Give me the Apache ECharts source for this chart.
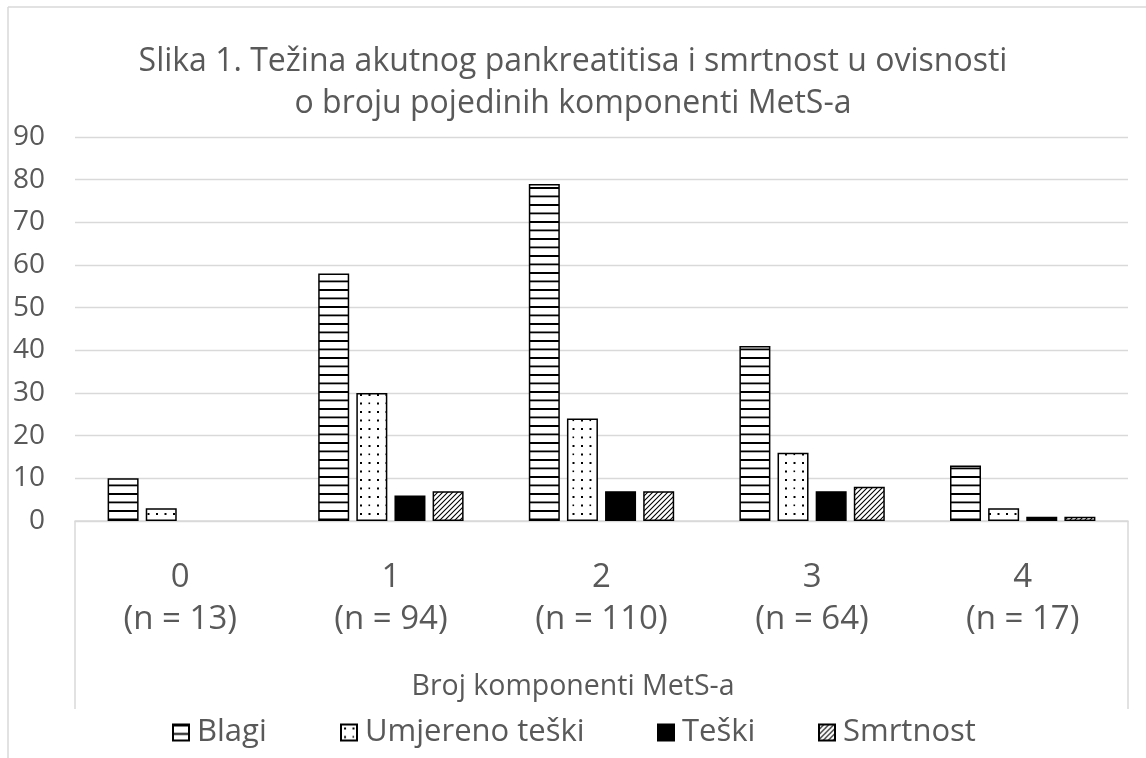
<!DOCTYPE html>
<html>
<head>
<meta charset="utf-8">
<script src="https://cdn.jsdelivr.net/npm/echarts@6/dist/echarts.min.js"></script>
<style>
html,body{margin:0;padding:0;background:#fff;}
#chart{width:1146px;height:758px;}
</style>
</head>
<body>
<div id="chart"></div>
<script>
// ---- data ----
const categories = ['0\n(n = 13)', '1\n(n = 94)', '2\n(n = 110)', '3\n(n = 64)', '4\n(n = 17)'];
const seriesNames = ['Blagi', 'Umjereno teški', 'Teški', 'Smrtnost'];
const blagi = [10, 58, 79, 41, 13];
const umjereno = [3, 30, 24, 16, 3];
const teski = [0, 6, 7, 7, 1];
const smrtnost = [0, 7, 7, 8, 1];
const yTicks = { min: 0, max: 90, interval: 10 };
const titleText = 'Slika 1. Težina akutnog pankreatitisa i smrtnost u ovisnosti\no broju pojedinih komponenti MetS-a';
const xAxisName = 'Broj komponenti MetS-a';

// ---- patterns ----
function mk(w, h, draw) {
  const c = document.createElement('canvas');
  c.width = w; c.height = h;
  const ctx = c.getContext('2d');
  ctx.fillStyle = '#fff'; ctx.fillRect(0, 0, w, h);
  ctx.fillStyle = '#000'; ctx.strokeStyle = '#000';
  draw(ctx);
  return c;
}
const hLines = mk(17, 17, ctx => { ctx.fillRect(0, 0, 17, 2); ctx.fillRect(0, 8.5, 17, 1.8); });
const dots = mk(17, 17, ctx => {
  ctx.fillRect(3, 3, 2, 2); ctx.fillRect(11.5, 3, 2, 2);
  ctx.fillRect(3, 11.5, 2, 2); ctx.fillRect(11.5, 11.5, 1.6, 1.6);
});
const hatch = mk(5, 5, ctx => {
  ctx.lineWidth = 1.1;
  ctx.beginPath();
  ctx.moveTo(-1, 6); ctx.lineTo(6, -1);
  ctx.moveTo(-1, 1); ctx.lineTo(1, -1);
  ctx.moveTo(4, 6); ctx.lineTo(6, 4);
  ctx.stroke();
});
const fills = [
  { image: hLines, repeat: 'repeat' },
  { image: dots, repeat: 'repeat' },
  '#000',
  { image: hatch, repeat: 'repeat' }
];
const dataSets = [blagi, umjereno, teski, smrtnost];

const FONT = 'Open Sans';
const TXT = '#595959';
const GRIDC = '#d9d9d9';
const G = { left: 75, right: 18, top: 137, bottom: 237 };
const W = 1146, H = 758;

const chart = echarts.init(document.getElementById('chart'), null, { renderer: 'canvas' });

const legendLefts = [167, 335, 652, 813];

const option = {
  backgroundColor: '#fff',
  animation: false,
  title: {
    text: titleText,
    left: 'center',
    top: 36,
    textStyle: { fontFamily: FONT, fontSize: 32, fontWeight: 'normal', color: TXT, lineHeight: 42, align: 'center' }
  },
  legend: seriesNames.map((n, i) => ({
    data: [{ name: n, icon: 'rect' }],
    left: legendLefts[i],
    top: 712,
    itemWidth: 16,
    itemHeight: 16,
    itemGap: 6,
    textStyle: { fontFamily: FONT, fontSize: 31, color: TXT, padding: [0, 0, 0, 3] },
    selectedMode: false
  })),
  grid: G,
  xAxis: {
    type: 'category',
    data: categories,
    axisLine: { lineStyle: { color: GRIDC, width: 1.5 } },
    axisTick: { show: false },
    axisLabel: { fontFamily: FONT, fontSize: 33, color: TXT, lineHeight: 42, margin: 36 }
  },
  yAxis: {
    type: 'value',
    min: yTicks.min, max: yTicks.max, interval: yTicks.interval,
    axisLine: { show: false },
    axisTick: { show: false },
    splitLine: { lineStyle: { color: GRIDC, width: 1.3 } },
    axisLabel: { fontFamily: FONT, fontSize: 28, color: TXT, margin: 30 }
  },
  series: seriesNames.map((n, i) => ({
    name: n,
    type: 'bar',
    data: dataSets[i].map(v => v === 0 ? { value: v, itemStyle: { borderWidth: 0 } } : v),
    barWidth: 31,
    barGap: '23%',
    itemStyle: { color: fills[i], borderColor: '#000', borderWidth: 1.5 }
  })),
  graphic: [
    { type: 'line', shape: { x1: 8, y1: 7, x2: W, y2: 7 }, style: { stroke: GRIDC, lineWidth: 1.5 } },
    { type: 'line', shape: { x1: 8, y1: 7, x2: 8, y2: H }, style: { stroke: GRIDC, lineWidth: 1.5 } },
    { type: 'line', shape: { x1: G.left, y1: H - G.bottom, x2: G.left, y2: 709 }, style: { stroke: GRIDC, lineWidth: 1.5 } },
    { type: 'line', shape: { x1: W - G.right, y1: H - G.bottom, x2: W - G.right, y2: 709 }, style: { stroke: GRIDC, lineWidth: 1.5 } },
    { type: 'text', x: W / 2, y: 687,
      style: { text: xAxisName, fontFamily: FONT, fontSize: 28.5, fill: TXT, textAlign: 'center', textVerticalAlign: 'middle' } }
  ]
};
chart.setOption(option);
</script>
</body>
</html>
